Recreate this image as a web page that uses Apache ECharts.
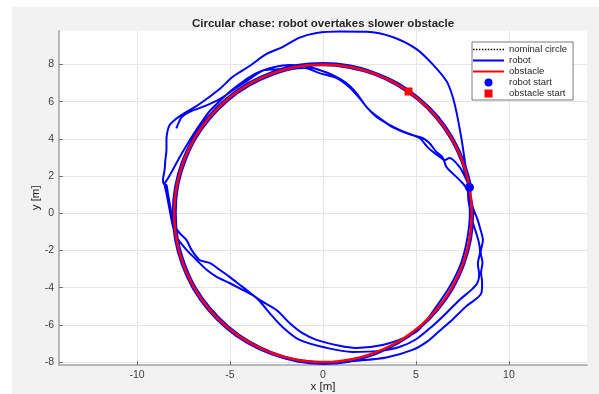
<!DOCTYPE html>
<html>
<head>
<meta charset="utf-8">
<script src="https://cdn.jsdelivr.net/npm/echarts@6/dist/echarts.min.js"></script>
<style>
  html, body { margin: 0; padding: 0; background: #ffffff; width: 599px; height: 394px; overflow: hidden; }
  #chart { position: absolute; left: 12px; top: 7px; width: 587px; height: 387px; background: #f2f2f2; }
</style>
</head>
<body>
<div id="chart"></div>
<script>
// ---- data -------------------------------------------------------------
const titleText = 'Circular chase: robot overtakes slower obstacle';
const xTicks = [-10, -5, 0, 5, 10];
const yTicks = [-8, -6, -4, -2, 0, 2, 4, 6, 8];
const xRange = [-14.2, 14.2];
const yRange = [-8.16, 9.82];

// reference circle the robot and obstacle drive around (centre, radius in m)
const circleCenter = [0, 0];
const circleRadius = 8;

const robotStart = [7.88, 1.39];
const obstacleStart = [4.6, 6.55];

// robot trajectory, lap by lap (x, y in m)
const robotLap1 = [
  [7.88, 1.39], [7.74, 2.10], [7.60, 3.00], [7.45, 4.00], [7.18, 5.44], [6.95, 6.35], [6.64, 7.11],
  [5.89, 8.02], [5.03, 8.83], [3.74, 9.48], [2.34, 9.76], [0.89, 9.78], [-0.35, 9.70], [-1.26, 9.45],
  [-2.18, 8.94], [-3.04, 8.57], [-3.95, 7.92], [-4.87, 7.33], [-5.56, 6.68], [-6.64, 5.88], [-7.62, 5.28],
  [-7.98, 5.02], [-8.25, 4.75], [-8.37, 4.39], [-8.42, 3.94], [-8.42, 3.40], [-8.48, 2.86], [-8.52, 2.33],
  [-8.61, 1.79], [-8.55, 1.57], [-8.42, 1.52],
  [-8.34, 1.05], [-8.22, 0.40], [-8.12, -0.25], [-7.98, -0.65], [-7.72, -1.06], [-7.34, -1.44],
  [-7.07, -1.97], [-6.64, -2.51], [-6.10, -2.67], [-5.56, -3.04], [-5.03, -3.42], [-4.33, -3.96],
  [-3.41, -4.66], [-2.50, -5.20], [-1.80, -5.90], [-1.10, -6.45], [-0.35, -6.81], [0.89, -7.13],
  [1.80, -7.24], [3.20, -7.08], [4.49, -6.65], [5.19, -6.22],
  [6.05, -5.08], [6.82, -3.94], [7.42, -2.70], [7.76, -1.37], [7.90, 0.00], [7.86, 0.70], [7.77, 1.25]
];
const robotLap2 = [
  [7.50, 1.63], [6.96, 2.16], [6.64, 2.49], [6.42, 3.03], [6.10, 3.30], [5.72, 3.78], [5.35, 4.05],
  [4.81, 4.21], [4.11, 4.48], [3.41, 4.85], [2.88, 5.18], [2.34, 5.72], [1.80, 6.46], [1.26, 7.00],
  [0.51, 7.44], [-0.19, 7.71], [-0.99, 7.92],
  [-1.80, 7.97], [-2.61, 7.87], [-3.31, 7.65], [-3.95, 7.33], [-4.49, 6.95], [-5.03, 6.52],
  [-5.56, 6.03], [-6.10, 5.49], [-6.53, 4.90], [-6.96, 4.26], [-7.39, 3.56], [-7.77, 2.91],
  [-8.09, 2.32], [-8.36, 1.84], [-8.52, 1.57],
  [-8.42, 1.08], [-8.25, 0.18], [-8.09, -0.63], [-7.88, -1.26], [-7.34, -1.97], [-6.80, -2.51],
  [-6.26, -3.04], [-5.72, -3.42], [-5.03, -3.75], [-4.33, -4.12], [-3.58, -4.55], [-2.88, -5.36],
  [-2.18, -6.11], [-1.26, -6.81], [0.19, -7.24], [1.59, -7.46], [3.04, -7.40], [4.11, -7.19],
  [5.03, -6.76], [5.89, -6.06], [6.64, -5.36], [7.34, -4.66], [7.98, -4.12],
  [8.30, -3.75], [8.40, -3.30], [8.33, -2.70], [8.45, -2.05], [8.38, -1.55], [8.22, -1.00],
  [8.05, -0.45], [7.92, 0.15], [7.82, 0.72], [7.80, 1.20]
];
const robotLap3 = [
  [7.88, 1.41], [7.72, 1.79], [7.34, 2.49], [6.80, 2.97], [6.53, 2.86], [6.37, 2.97], [5.99, 3.24],
  [5.62, 3.56], [5.19, 4.05], [4.49, 4.31], [3.74, 4.63], [3.04, 5.12], [2.50, 5.55], [1.96, 6.19],
  [1.42, 6.78], [0.73, 7.27], [-0.19, 7.54], [-0.99, 7.81],
  [-1.37, 7.80], [-2.71, 7.45], [-3.96, 6.86], [-5.10, 6.07], [-6.07, 5.09], [-6.87, 3.97],
  [-7.44, 2.71], [-7.81, 1.38], [-7.92, 0.00], [-7.81, -1.38], [-7.44, -2.71], [-6.87, -3.97],
  [-6.07, -5.09], [-5.10, -6.07], [-3.98, -6.88], [-2.73, -7.49], [-1.39, -7.88], [0.00, -8.02],
  [0.35, -8.04], [1.96, -7.92], [3.41, -7.76], [4.81, -7.35], [5.60, -6.90], [6.26, -6.33],
  [7.00, -5.68], [7.72, -4.99], [8.52, -4.29],
  [8.56, -3.70], [8.50, -3.20], [8.58, -2.65], [8.48, -2.10], [8.60, -1.45], [8.45, -0.80],
  [8.30, -0.30], [8.12, 0.15], [7.97, 0.60], [7.92, 1.05]
];
const robotLap4 = [
  [7.94, 1.40], [7.59, 2.76], [7.00, 4.04], [6.20, 5.20], [5.19, 6.19], [4.04, 7.00], [2.76, 7.58],
  [1.40, 7.96], [0.00, 8.08], [-1.40, 7.97], [-2.76, 7.59], [-4.04, 7.00], [-5.19, 6.19],
  [-6.19, 5.19], [-6.99, 4.04], [-7.59, 2.76], [-7.96, 1.40], [-8.08, 0.00], [-7.96, -1.40],
  [-7.59, -2.76], [-7.00, -4.04], [-6.19, -5.19], [-5.19, -6.19], [-4.04, -7.00], [-2.76, -7.59],
  [-1.40, -7.97], [0.00, -8.10], [1.41, -7.98], [2.77, -7.60], [4.04, -7.00], [5.19, -6.19],
  [6.19, -5.19], [7.00, -4.04], [7.59, -2.76], [7.96, -1.40], [8.08, 0.00]
];
const robotLap5 = [
  [7.83, 1.38], [7.47, 2.72], [6.88, 3.98], [6.09, 5.11], [5.11, 6.09], [3.98, 6.88], [2.72, 7.47],
  [1.38, 7.83], [0.00, 7.96], [-1.39, 7.90], [-2.40, 7.75], [-3.15, 7.70], [-3.95, 7.22],
  [-4.76, 6.68], [-5.56, 6.14], [-6.37, 5.76], [-7.18, 5.45], [-7.61, 5.17], [-7.75, 4.90],
  [-7.89, 4.57]
];

// ---- derived series ---------------------------------------------------
const robotPath = [].concat(robotLap1, robotLap2, robotLap3, robotLap4, robotLap5);

// circle of the given radius, sampled every 2 degrees
function circlePoints(center, r) {
  const pts = [];
  for (let a = 0; a <= 360; a += 2) {
    const t = a * Math.PI / 180;
    pts.push([center[0] + r * Math.cos(t), center[1] + r * Math.sin(t)]);
  }
  return pts;
}
const nominalCircle = circlePoints(circleCenter, circleRadius);
const obstaclePath = circlePoints(circleCenter, circleRadius);

// ---- legend icons -----------------------------------------------------
const lineIcon = 'path://M0,0h31v2h-31z';
let dotted = 'path://';
for (let i = 0; i <= 30; i += 3) dotted += 'M' + i + ',0h1.5v1.5h-1.5z';
const squareIcon = 'path://M0,0h8v8h-8z';

// ---- chart ------------------------------------------------------------
const FONT = 'Liberation Sans, Arial, Helvetica, sans-serif';
const chart = echarts.init(document.getElementById('chart'), null, { renderer: 'canvas' });

function axisCommon(ticks, range, step, splitNumber) {
  return {
    type: 'value',
    min: range[0],
    max: range[1],
    minInterval: step,
    maxInterval: step,
    splitNumber: splitNumber,
    axisLine: { show: true, onZero: false, lineStyle: { color: '#a3a3a3', width: 1.5 } },
    axisTick: { show: true, inside: true, length: 4, lineStyle: { color: '#777777', width: 1 } },
    axisLabel: {
      show: true, margin: 5, fontSize: 10.5, color: '#404040', fontFamily: FONT,
      showMinLabel: false, showMaxLabel: false,
      formatter: v => (ticks.indexOf(v) >= 0 ? String(v) : '')
    },
    splitLine: { show: true, showMinLine: false, showMaxLine: false, lineStyle: { color: '#e6e6e6', width: 1 } },
    nameLocation: 'middle',
    nameMoveOverlap: false,
    nameTextStyle: { fontSize: 11.5, color: '#262626', fontFamily: FONT }
  };
}

const xAxis = Object.assign(axisCommon(xTicks, xRange, xTicks[1] - xTicks[0], 6), { name: 'x [m]', nameGap: 16 });
const yAxis = Object.assign(axisCommon(yTicks, yRange, yTicks[1] - yTicks[0], 9), { name: 'y [m]', nameGap: 17 });

chart.setOption({
  animation: false,
  backgroundColor: '#f2f2f2',
  textStyle: { fontFamily: FONT },
  title: {
    text: titleText,
    left: 306,
    top: 6,
    textAlign: 'center',
    textStyle: { fontSize: 11.5, fontWeight: 'bold', color: '#262626', fontFamily: FONT }
  },
  grid: {
    left: 47, top: 23.7, width: 528, height: 334.3,
    outerBoundsMode: 'none',
    containLabel: false,
    show: true, backgroundColor: '#ffffff', borderWidth: 0
  },
  legend: {
    orient: 'vertical',
    left: 460, top: 35,
    padding: [2, 6, 1, 1],
    itemWidth: 31, itemHeight: 8, itemGap: 0,
    symbolKeepAspect: true,
    selectedMode: false,
    backgroundColor: '#ffffff',
    borderColor: '#595959', borderWidth: 0.8, borderRadius: 0,
    textStyle: { fontSize: 9.5, lineHeight: 11, color: '#262626', fontFamily: FONT },
    data: [
      { name: 'nominal circle', icon: dotted },
      { name: 'robot', icon: lineIcon },
      { name: 'obstacle', icon: lineIcon },
      { name: 'robot start', icon: 'circle' },
      { name: 'obstacle start', icon: squareIcon }
    ]
  },
  xAxis: xAxis,
  yAxis: yAxis,
  series: [
    {
      name: 'nominal circle', type: 'line', data: nominalCircle,
      symbol: 'none', showSymbol: false, z: 1,
      lineStyle: { color: '#000000', width: 1, type: 'dotted' },
      itemStyle: { color: '#000000' }
    },
    {
      name: 'robot', type: 'line', data: robotPath,
      symbol: 'none', showSymbol: false, z: 2, smooth: 0.3,
      lineStyle: { color: '#0000ff', width: 2 },
      itemStyle: { color: '#0000ff' }
    },
    {
      name: 'obstacle', type: 'line', data: obstaclePath,
      symbol: 'none', showSymbol: false, z: 3,
      lineStyle: { color: '#ff0000', width: 2.5 },
      itemStyle: { color: '#ff0000' }
    },
    {
      name: 'robot start', type: 'scatter', data: [robotStart],
      symbol: 'circle', symbolSize: 9, z: 4,
      itemStyle: { color: '#0000ff', opacity: 1 }
    },
    {
      name: 'obstacle start', type: 'scatter', data: [obstacleStart],
      symbol: 'rect', symbolSize: 8, z: 4,
      itemStyle: { color: '#ff0000', opacity: 1 }
    }
  ]
});
</script>
</body>
</html>
